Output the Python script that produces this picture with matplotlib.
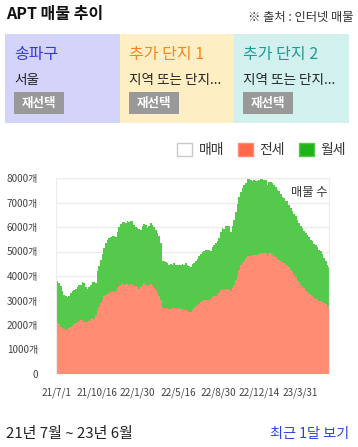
import matplotlib
matplotlib.use("Agg")
import matplotlib.pyplot as plt
from matplotlib.patches import Rectangle, Patch
import pandas as pd
import numpy as np

plt.rcParams['font.family'] = ['Noto Sans CJK KR', 'DejaVu Sans']

# ---------------- data ----------------
start_date = '2021-07-01'
end_date = '2023-06-15'

# 전세 (jeonse) listings
jeonse = [
    2210, 2141, 2046, 1937, 1869, 1828, 1800, 1800, 1869, 1937, 1964, 2032, 2073, 2141,
    2182, 2210, 2210, 2141, 2114, 2141, 2182, 2250, 2278, 2250, 2414, 2619, 2755, 2892,
    3028, 3165, 3233, 3260, 3301, 3342, 3369, 3328, 3396, 3506, 3574, 3642, 3710,
    3642, 3683, 3669, 3642, 3669, 3642, 3615, 3574, 3533, 3465, 3533, 3642, 3710, 3642,
    3574, 3642, 3683, 3601, 3506, 3410, 3301, 3165, 3028, 2687, 2687, 2687, 2660, 2660,
    2646, 2714, 2687, 2687, 2660, 2687, 2660, 2660, 2619, 2619, 2578, 2551, 2551,
    2619, 2687, 2783, 2823, 2864, 2933, 2987, 3001, 3028, 3001, 3001, 3069, 3124, 3165,
    3192, 3233, 3301, 3437, 3465, 3437, 3478, 3437, 3465, 3396, 3506, 3642, 3846, 4051,
    4256, 4460, 4529, 4624, 4733, 4829, 4829, 4829, 4842, 4842, 4870, 4870, 4897,
    4938, 4938, 4938, 4938, 4801, 4938, 4938, 4870, 4801, 4760, 4692, 4665, 4597, 4556,
    4529, 4460, 4392, 4351, 4256, 4160, 4051, 3942, 3846, 3751, 3642, 3574, 3506, 3396,
    3342, 3301, 3206, 3165, 3097, 3069, 3028, 2987, 2960, 2919, 2892, 2851, 2755, 2728,
]

# total listings (전세 + 월세), top of the stacked area
total = [
    3874, 3806, 3710, 3574, 3369, 3233, 3165, 3124, 3192, 3301, 3369, 3410, 3478, 3546,
    3615, 3642, 3751, 3710, 3533, 3478, 3546, 3642, 3751, 3751, 3710, 4200, 4420, 4640,
    4900, 5130, 5330, 5460, 5535, 5580, 5630, 5640, 5600, 5800, 5990, 6120, 6193,
    6193, 6165, 6233, 6206, 6261, 6233, 6097, 6002, 5961, 5920, 5893, 6029, 6124, 6097,
    5961, 6029, 6165, 6097, 5988, 5893, 5756, 5620, 5347, 4624, 4597, 4556, 4529, 4460,
    4488, 4433, 4529, 4433, 4460, 4460, 4460, 4488, 4460, 4529, 4433, 4392, 4351,
    4488, 4529, 4597, 4692, 4801, 4897, 4979, 5033, 5074, 5074, 5074, 5033, 5170, 5279,
    5347, 5415, 5551, 5797, 5961, 5920, 6029, 6056, 6029, 5784, 6050, 6300, 6600, 6950,
    7230, 7440, 7600, 7700, 7790, 7950, 7939, 7898, 7870, 7898, 7870, 7870, 7898,
    7939, 7939, 7898, 7898, 7734, 7843, 7843, 7802, 7734, 7625, 7529, 7461, 7352, 7215,
    7188, 7079, 7052, 6915, 6779, 6643, 6534, 6438, 6302, 6165, 6029, 5961, 5852, 5756,
    5688, 5579, 5483, 5415, 5306, 5251, 5170, 5074, 5033, 4897, 4733, 4600, 4450, 4380,
]

tick_dates = ['2021-07-01', '2021-10-16', '2022-01-30', '2022-05-16',
              '2022-08-30', '2022-12-14', '2023-03-31']
tick_labels = ['21/7/1', '21/10/16', '22/1/30', '22/5/16', '22/8/30', '22/12/14', '23/3/31']
y_ticks = [0, 1000, 2000, 3000, 4000, 5000, 6000, 7000, 8000]
y_tick_labels = ['0'] + [f'{v}개' for v in y_ticks[1:]]

series_names = ['매매', '전세', '월세']
region_titles = ['송파구', '추가 단지 1', '추가 단지 2']
region_subs = ['서울', '지역 또는 단지...', '지역 또는 단지...']

# ---------------- figure ----------------
W, H = 358, 447
fig = plt.figure(figsize=(W / 100, H / 100), dpi=100)
fig.patch.set_facecolor('white')

def fx(px):
    return px / W

def fy(py):
    return 1 - py / H

# header
fig.text(fx(6), fy(14), 'APT 매물 추이', fontsize=11.5, fontweight='bold',
         color='#111111', va='center', ha='left')
fig.text(fx(354), fy(17), '※ 출처 : 인터넷 매물', fontsize=8.8,
         color='#333333', va='center', ha='right')

# region panels
panel_x = [5, 120, 234]
panel_w = [115, 114, 115]
panel_colors = ['#d4d4fa', '#feeec3', '#d1f0ee']
title_colors = ['#3434e6', '#f7861e', '#1b9c94']
for i in range(3):
    fig.patches.append(Rectangle((fx(panel_x[i]), fy(123)), fx(panel_w[i]), 89 / H,
                                 transform=fig.transFigure, facecolor=panel_colors[i],
                                 edgecolor='none', zorder=0))
    fig.text(fx(panel_x[i] + 9), fy(55), region_titles[i], fontsize=11.5,
             color=title_colors[i], va='center', ha='left', fontweight='medium')
    fig.text(fx(panel_x[i] + 9), fy(80), region_subs[i], fontsize=9.8,
             color='#222222', va='center', ha='left')
    fig.patches.append(Rectangle((fx(panel_x[i] + 9), fy(114)), fx(50), 22 / H,
                                 transform=fig.transFigure, facecolor='#999999',
                                 edgecolor='none', zorder=1))
    fig.text(fx(panel_x[i] + 34), fy(103), '재선택', fontsize=9, color='white',
             fontweight='bold', va='center', ha='center', zorder=2)

# chart
ax = fig.add_axes([fx(56), 1 - 374 / H, fx(273), (374 - 178) / H])
dates = pd.date_range(start_date, end_date, periods=len(jeonse))
jeonse_arr = np.array(jeonse)
total_arr = np.array(total)

red = '#ff8c73'
green = '#55c94c'
ax.fill_between(dates, 0, jeonse_arr, step='mid', color=red, linewidth=0, zorder=2)
ax.fill_between(dates, jeonse_arr, total_arr, step='mid', color=green, linewidth=0, zorder=2)

ax.set_xlim(pd.Timestamp(start_date), pd.Timestamp(end_date))
ax.set_ylim(0, 8000)
ax.set_yticks(y_ticks)
ax.set_yticklabels(y_tick_labels)
ax.set_xticks(pd.to_datetime(tick_dates))
ax.set_xticklabels(tick_labels)
ax.tick_params(axis='both', length=0, labelsize=7.2, colors='#444444')
ax.tick_params(axis='y', pad=13)
ax.tick_params(axis='x', pad=10)
ax.grid(axis='y', color='#ececec', linewidth=1, zorder=1)
for s in ['left', 'right', 'top']:
    ax.spines[s].set_color('#ececec')
ax.spines['bottom'].set_visible(False)
ax.text(0.995, 0.925, '매물 수', transform=ax.transAxes, fontsize=8.8,
        color='#333333', ha='right', va='center', zorder=3)

# legend
handles = [Patch(facecolor='white', edgecolor='#c8c8d0', linewidth=1),
           Patch(facecolor='#ff6a4a', edgecolor='#ff8c73', linewidth=1),
           Patch(facecolor='#1fb21a', edgecolor='#55c94c', linewidth=1)]
fig.legend(handles, series_names, ncol=3, loc='center right',
           bbox_to_anchor=(fx(346), fy(150)), frameon=False, fontsize=10,
           handlelength=1.05, handleheight=1.05, handletextpad=0.5,
           columnspacing=1.0, labelcolor='#333333', borderaxespad=0, borderpad=0)

# footer
fig.text(fx(6), fy(434), '21년 7월 ~ 23년 6월', fontsize=10.8, color='#222222',
         va='center', ha='left')
fig.text(fx(349), fy(434), '최근 1달 보기', fontsize=10.2, color='#2b45d8',
         va='center', ha='right')

fig.savefig('out.png', dpi=100, facecolor='white')
